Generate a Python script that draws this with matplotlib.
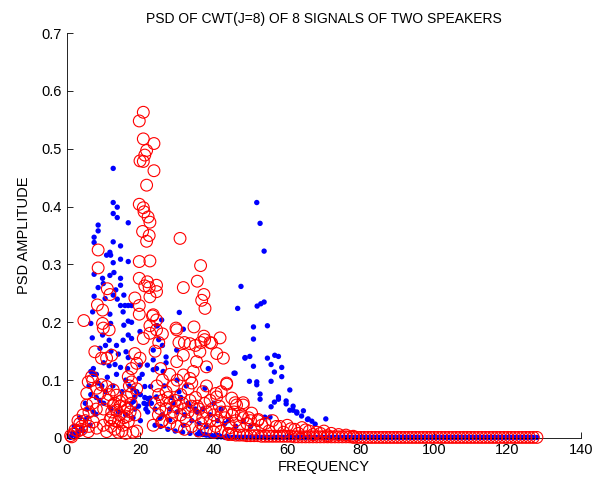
import matplotlib.pyplot as plt

plt.rcParams['font.family'] = ['Liberation Sans', 'DejaVu Sans']

# speaker 1 (blue dots): frequency / PSD amplitude pairs
blue_freq = [12.6, 12.6, 13.7, 12.6, 13.7, 8.5, 8.5, 7.4, 7.4, 12.6, 16.7, 14.6, 11.7, 10.8, 11.9,
             14.6, 12.6, 16.7, 7.4, 11.7, 12.8, 14.6, 9.7, 9.9, 14.6, 8.5, 13.3, 7.4, 12.6, 15.5,
             10.4, 13.7, 14.6, 15.8, 16.7, 17.6, 7.0, 11.7, 15.3, 16.7, 17.6, 6.5, 11.9, 15.5, 24.4,
             51.7, 52.6, 53.7, 47.4, 46.5, 51.8, 52.8, 53.7, 30.6, 31.7, 50.8, 54.6, 50.8, 48.5, 49.8,
             54.6, 56.6, 57.6, 50.8, 55.6, 58.5, 45.5, 56.5, 49.7, 51.7, 51.7, 55.6, 58.5, 60.7, 52.6,
             52.6, 57.6, 57.6, 59.7, 59.7, 56.5, 55.6, 61.6, 61.6, 60.7, 62.6, 64.4, 65.5, 62.6, 63.9,
             65.7, 66.7, 67.6, 70.5, 53.9, 55.3, 25.8, 24.6,
             6.9, 9.7, 11.5, 15.3, 16.7, 17.6, 19.9, 7.2, 6.5, 7.2, 13.1, 14.6, 16.1, 16.7, 19.9,
             21.9, 23.5, 19.7, 21.2, 22.8, 21.2, 22.0, 22.6, 21.0, 21.7, 22.6, 18.5, 18.1, 24.4, 7.2,
             5.4, 4.0, 2.2, 0.8, 3.1, 6.3, 7.9, 25.3, 24.0,
             23.5, 29.9, 23.5, 24.4, 26.2, 37.6, 45.8, 48.5, 38.5, 28.0, 31.7, 36.2, 40.8,
             9.0, 10.5, 12.0, 13.5, 14.0, 10.0, 11.5, 8.5, 9.5, 16.0, 17.0, 18.0, 19.0, 20.0, 8.0,
             10.0, 12.0, 14.0, 16.0, 18.0, 20.0, 22.0, 24.0, 26.0, 28.0, 30.0, 32.0, 34.0, 36.0, 38.0,
             26.5, 28.5, 30.5, 33.0, 35.0, 27.0, 30.0, 32.5, 40.0, 42.0, 44.0, 46.0, 48.0, 50.0, 2.0,
             3.5, 5.0, 6.0, 1.5, 25.0, 26.0, 27.0, 29.0, 31.0, 33.5, 35.5, 37.0, 39.0, 41.0, 43.0,
             5.5, 6.5, 8.0, 9.0, 10.5, 11.0, 12.5, 13.5, 15.0, 16.5, 18.5, 20.5, 23.0, 25.5, 27.5,
             29.5, 31.5, 33.5, 35.5, 37.5, 39.5, 41.5, 43.5, 3.0, 4.5, 1.0, 2.5, 17.5, 19.5, 21.5]
blue_psd = [0.466, 0.407, 0.399, 0.388, 0.381, 0.368, 0.358, 0.347, 0.338, 0.339, 0.372, 0.332, 0.321, 0.316, 0.316,
            0.309, 0.303, 0.305, 0.283, 0.281, 0.286, 0.276, 0.276, 0.267, 0.264, 0.260, 0.256, 0.245, 0.247, 0.247,
            0.241, 0.240, 0.229, 0.229, 0.229, 0.229, 0.218, 0.214, 0.218, 0.202, 0.200, 0.198, 0.198, 0.195, 0.194,
            0.407, 0.371, 0.323, 0.262, 0.224, 0.228, 0.232, 0.235, 0.217, 0.188, 0.192, 0.194, 0.171, 0.139, 0.141,
            0.138, 0.143, 0.141, 0.124, 0.127, 0.122, 0.112, 0.114, 0.098, 0.097, 0.092, 0.098, 0.106, 0.083, 0.076,
            0.067, 0.071, 0.067, 0.064, 0.059, 0.062, 0.054, 0.055, 0.048, 0.048, 0.045, 0.047, 0.032, 0.043, 0.038,
            0.033, 0.029, 0.024, 0.033, 0.036, 0.036, 0.204, 0.194,
            0.173, 0.178, 0.169, 0.169, 0.178, 0.172, 0.184, 0.120, 0.115, 0.110, 0.127, 0.122, 0.149, 0.139, 0.126,
            0.126, 0.118, 0.103, 0.089, 0.089, 0.070, 0.068, 0.069, 0.060, 0.058, 0.061, 0.071, 0.063, 0.071, 0.045,
            0.034, 0.017, 0.005, 0.002, 0.011, 0.022, 0.041, 0.034, 0.022,
            0.152, 0.152, 0.135, 0.120, 0.115, 0.086, 0.112, 0.138, 0.120, 0.031, 0.022, 0.011, 0.005,
            0.155, 0.160, 0.150, 0.160, 0.145, 0.130, 0.125, 0.095, 0.090, 0.100, 0.090, 0.085, 0.080, 0.075, 0.070,
            0.060, 0.050, 0.045, 0.040, 0.035, 0.030, 0.045, 0.050, 0.040, 0.050, 0.045, 0.040, 0.030, 0.025, 0.020,
            0.090, 0.070, 0.080, 0.060, 0.050, 0.130, 0.100, 0.090, 0.060, 0.050, 0.030, 0.020, 0.030, 0.020, 0.020,
            0.035, 0.060, 0.090, 0.008, 0.170, 0.160, 0.140, 0.060, 0.070, 0.055, 0.045, 0.050, 0.040, 0.030, 0.025,
            0.050, 0.075, 0.110, 0.065, 0.080, 0.105, 0.090, 0.110, 0.080, 0.120, 0.050, 0.110, 0.060, 0.020, 0.015,
            0.012, 0.010, 0.008, 0.006, 0.006, 0.004, 0.004, 0.003, 0.006, 0.012, 0.001, 0.003, 0.060, 0.055, 0.050]

# speaker 2 (red circles)
red_freq = [20.8, 19.7, 20.8, 23.7, 21.7, 21.2, 19.9, 20.8, 23.7, 21.7, 19.7, 20.8, 21.0, 22.1, 22.6,
            20.6, 22.4, 21.7, 8.5, 8.5, 19.7, 22.6, 19.7, 21.9, 21.2, 24.4, 22.4, 22.6, 11.0, 11.7,
            18.5, 8.3, 9.7, 19.7, 19.7, 4.6, 9.7, 23.3, 24.4, 22.6,
            30.8, 36.4, 35.5, 31.7, 37.3, 36.7, 37.6, 24.4, 23.5, 29.7, 34.6,
            41.7, 39.4, 37.3, 42.6, 40.8, 43.5, 40.6, 45.8, 48.0, 50.3, 52.1,
            9.9, 11.5, 24.4, 22.6, 20.8, 7.6, 9.4, 10.8, 12.2, 18.5, 19.9, 19.0, 17.6, 6.7, 5.8,
            8.1, 9.4, 10.8, 9.0, 5.4, 5.4, 4.4, 3.5, 2.2, 1.3, 7.2, 8.1, 9.9, 11.7, 12.6,
            12.2, 13.5, 14.4, 14.0, 15.3, 16.7, 14.4, 15.8, 17.2, 16.3, 13.5, 12.6, 17.6, 16.3, 10.8,
            5.8, 17.6, 16.7, 25.3, 24.9, 25.8, 23.5,
            29.9, 30.5, 32.0, 33.5, 35.0, 36.5, 37.5, 39.0, 36.2, 31.7, 29.9, 35.3, 38.0, 34.4, 31.7,
            33.5, 43.5, 40.8, 44.9, 46.2, 48.0,
            24.0, 26.0, 27.0, 28.0, 29.0, 30.0, 31.0, 32.0, 33.0, 34.0, 35.0, 36.0, 37.0, 38.0, 39.0,
            40.0, 41.0, 42.0, 43.0, 44.0, 45.0, 46.0, 47.0, 48.0, 49.0, 50.0, 26.0, 28.0, 30.0, 32.0,
            34.0, 36.0, 38.0, 40.0, 42.0, 44.0, 27.0, 29.0, 31.0, 33.0, 35.0, 37.0, 39.0, 26.0, 28.0,
            24.5, 25.5, 24.0, 25.0, 26.0,
            52.0, 54.0, 56.0, 58.0, 60.0, 62.0, 64.0, 66.0, 68.0, 70.0, 72.0, 74.0, 76.0, 78.0, 51.0,
            55.0, 59.0, 63.0, 67.0, 71.0,
            1.0, 2.0, 3.0, 4.0, 5.0, 6.0, 7.0, 8.0, 12.0, 13.0, 14.0, 15.0, 16.0, 18.0, 19.0,
            11.0, 12.0, 13.0, 14.5, 15.5, 16.5, 17.5, 18.5, 10.0, 11.5, 13.0, 15.0, 17.0, 19.0, 6.0,
            7.0, 3.0, 4.0, 25.0, 27.5, 29.5, 31.5, 33.5, 35.5, 37.5, 39.5, 41.5, 43.5, 45.5, 47.5,
            49.5, 28.5, 32.5, 36.5, 40.5, 44.5, 30.0, 34.0, 38.0, 42.0, 53.0, 57.0, 61.0, 65.0, 69.0]
red_psd = [0.563, 0.548, 0.517, 0.509, 0.497, 0.489, 0.479, 0.478, 0.462, 0.437, 0.404, 0.398, 0.391, 0.382, 0.373,
           0.357, 0.350, 0.340, 0.325, 0.294, 0.305, 0.306, 0.276, 0.270, 0.263, 0.264, 0.260, 0.244, 0.258, 0.248,
           0.242, 0.230, 0.221, 0.229, 0.214, 0.203, 0.198, 0.211, 0.204, 0.194,
           0.345, 0.298, 0.271, 0.260, 0.248, 0.238, 0.224, 0.253, 0.213, 0.190, 0.192,
           0.173, 0.164, 0.176, 0.138, 0.146, 0.093, 0.077, 0.061, 0.061, 0.043, 0.032,
           0.190, 0.187, 0.187, 0.181, 0.172, 0.149, 0.138, 0.138, 0.143, 0.146, 0.138, 0.129, 0.120, 0.106, 0.097,
           0.086, 0.092, 0.089, 0.077, 0.077, 0.057, 0.040, 0.025, 0.014, 0.002, 0.028, 0.017, 0.022, 0.031, 0.057,
           0.045, 0.048, 0.040, 0.028, 0.022, 0.028, 0.063, 0.054, 0.045, 0.071, 0.074, 0.083, 0.077, 0.037, 0.011,
           0.011, 0.097, 0.106, 0.051, 0.040, 0.028, 0.022,
           0.187, 0.165, 0.165, 0.163, 0.160, 0.165, 0.170, 0.165, 0.149, 0.143, 0.132, 0.132, 0.123, 0.115, 0.109,
           0.103, 0.095, 0.071, 0.069, 0.057, 0.057,
           0.060, 0.065, 0.050, 0.060, 0.045, 0.055, 0.040, 0.050, 0.045, 0.055, 0.040, 0.050, 0.035, 0.045, 0.030,
           0.040, 0.030, 0.045, 0.035, 0.025, 0.040, 0.030, 0.020, 0.035, 0.025, 0.030, 0.030, 0.025, 0.020, 0.015,
           0.020, 0.012, 0.015, 0.010, 0.012, 0.008, 0.080, 0.090, 0.075, 0.085, 0.070, 0.080, 0.065, 0.100, 0.110,
           0.090, 0.120, 0.150, 0.165, 0.180,
           0.030, 0.025, 0.030, 0.020, 0.022, 0.015, 0.018, 0.012, 0.010, 0.012, 0.008, 0.006, 0.005, 0.003, 0.015,
           0.012, 0.010, 0.008, 0.006, 0.004,
           0.004, 0.008, 0.012, 0.020, 0.030, 0.045, 0.060, 0.050, 0.020, 0.015, 0.010, 0.012, 0.008, 0.010, 0.012,
           0.065, 0.035, 0.060, 0.055, 0.035, 0.050, 0.060, 0.040, 0.050, 0.075, 0.030, 0.065, 0.090, 0.085, 0.020,
           0.100, 0.030, 0.015, 0.075, 0.070, 0.065, 0.060, 0.065, 0.055, 0.060, 0.050, 0.055, 0.045, 0.045, 0.040,
           0.035, 0.035, 0.030, 0.025, 0.020, 0.018, 0.100, 0.095, 0.090, 0.080, 0.022, 0.020, 0.016, 0.014, 0.008]

# near-zero floor of the high-frequency bins
floor_red_freq = list(range(44, 129))
floor_red_psd = [0.006, 0.006, 0.005, 0.005, 0.005, 0.004, 0.004, 0.004, 0.004, 0.003,
                 0.003, 0.003, 0.003, 0.003, 0.003, 0.003, 0.003, 0.003, 0.002, 0.002,
                 0.002, 0.002, 0.002, 0.002, 0.002, 0.002, 0.002, 0.002, 0.002, 0.002,
                 0.002, 0.002, 0.002, 0.002, 0.001, 0.001, 0.001, 0.001, 0.001, 0.001,
                 0.001, 0.001, 0.001, 0.001, 0.001, 0.001, 0.001, 0.001, 0.001, 0.001,
                 0.001, 0.001, 0.001, 0.001, 0.001, 0.001, 0.001, 0.001, 0.001, 0.001,
                 0.001, 0.001, 0.001, 0.001, 0.001, 0.001, 0.001, 0.001, 0.001, 0.001,
                 0.001, 0.001, 0.001, 0.001, 0.001, 0.001, 0.001, 0.001, 0.001, 0.001,
                 0.001, 0.001, 0.001, 0.001, 0.001]
floor_blue_freq = list(range(36, 129))
floor_blue_psd = [0.008, 0.006, 0.005, 0.004, 0.003, 0.002, 0.002, 0.001, 0.001, 0.001,
                  0.001, 0.001, 0.001, 0.001, 0.001, 0.001, 0.001, 0.001, 0.001, 0.001,
                  0.001, 0.001, 0.001, 0.001, 0.001, 0.001, 0.001, 0.001, 0.001, 0.001,
                  0.001, 0.001, 0.001, 0.001, 0.001, 0.001, 0.001, 0.001, 0.001, 0.001,
                  0.001, 0.001, 0.001, 0.001, 0.001, 0.001, 0.001, 0.001, 0.001, 0.001,
                  0.001, 0.001, 0.001, 0.001, 0.001, 0.001, 0.001, 0.001, 0.001, 0.001,
                  0.001, 0.001, 0.001, 0.001, 0.001, 0.001, 0.001, 0.001, 0.001, 0.001,
                  0.001, 0.001, 0.001, 0.001, 0.001, 0.001, 0.001, 0.001, 0.001, 0.001,
                  0.001, 0.001, 0.001, 0.001, 0.001, 0.001, 0.001, 0.001, 0.001, 0.001,
                  0.001, 0.001, 0.001]

fig = plt.figure(figsize=(6.03, 4.82), dpi=100)
ax = fig.add_axes([0.111, 0.0913, 0.8525, 0.8402])

ax.scatter(blue_freq + floor_blue_freq, blue_psd + floor_blue_psd, s=15, c='#0000ff',
           edgecolors='none', clip_on=False, zorder=2)
ax.scatter(red_freq + floor_red_freq, red_psd + floor_red_psd, s=72, facecolors='none',
           edgecolors='#ff0000', linewidths=0.8, clip_on=False, zorder=3)

ax.set_xlim(0, 140)
ax.set_ylim(0, 0.7)
ax.set_xticks(range(0, 141, 20))
ax.set_yticks([0, 0.1, 0.2, 0.3, 0.4, 0.5, 0.6, 0.7])
ax.set_yticklabels(['0', '0.1', '0.2', '0.3', '0.4', '0.5', '0.6', '0.7'])
ax.tick_params(direction='in', length=4, labelsize=10.5, width=0.6)
ax.spines['top'].set_visible(False)
ax.spines['right'].set_visible(False)
for s in ['left', 'bottom']:
    ax.spines[s].set_linewidth(0.6)
ax.set_title('PSD OF CWT(J=8) OF 8 SIGNALS OF TWO SPEAKERS', fontsize=10, pad=7)
ax.set_xlabel('FREQUENCY', fontsize=10.5, labelpad=2)
ax.set_ylabel('PSD AMPLITUDE', fontsize=10.5, labelpad=8)

fig.savefig('out.png', dpi=100)
